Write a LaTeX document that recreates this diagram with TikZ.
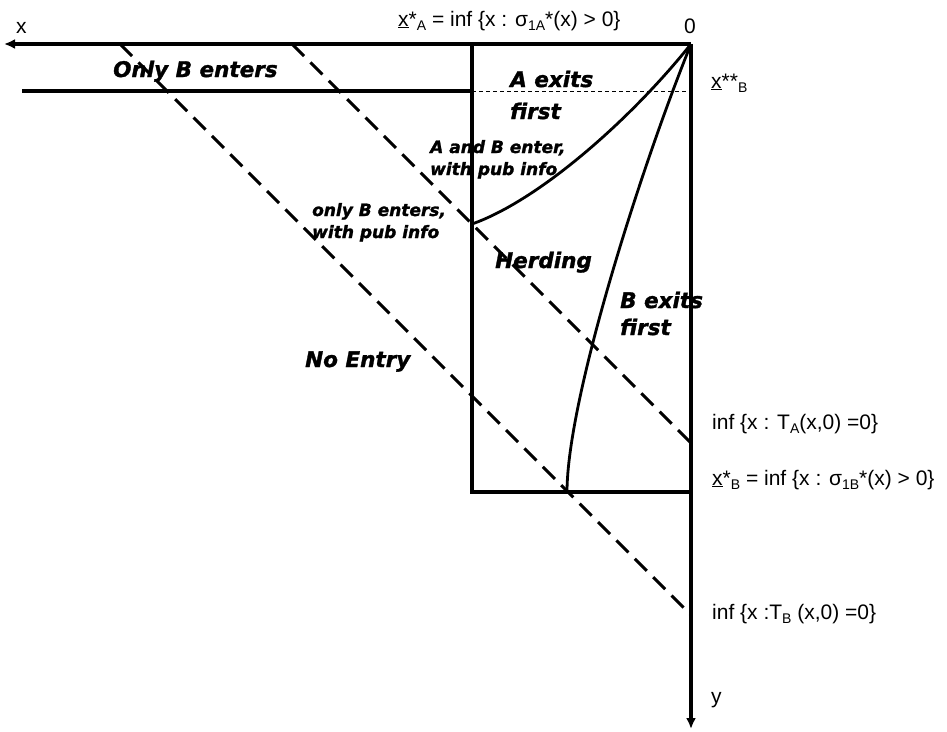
\documentclass[tikz,border=0pt]{standalone}
\usepackage{fontspec}
\setmainfont{Liberation Sans}
\newfontfamily\regionfont{DejaVu Sans Bold Oblique}[FakeBold=1.5]
\usetikzlibrary{arrows.meta}
\newcommand{\lowsub}[1]{\raisebox{-4pt}{\fontsize{14}{14}\selectfont #1}}
\tikzset{
  axis/.style={line width=3.2pt,-{Latex[length=11pt,width=10pt]}},
  bound/.style={line width=3.2pt},
  level/.style={line width=3pt,dash pattern=on 17pt off 9pt},
  hint/.style={line width=1pt,dash pattern=on 4pt off 3pt},
  frontier/.style={line width=2.8pt},
  region/.style={font=\regionfont\fontsize{21.5}{27}\selectfont,align=left,inner sep=0pt,anchor=base west},
  regionsmall/.style={font=\regionfont\fontsize{17}{22}\selectfont,align=left,inner sep=0pt,anchor=base west},
  tag/.style={font=\fontsize{21}{25}\selectfont,inner sep=0pt,anchor=base west}
}

\begin{document}
\begin{tikzpicture}[x=1pt,y=-1pt]
\useasboundingbox (0,0) rectangle (947,731);
\coordinate (O) at (691,44);
\coordinate (xend) at (4,44);
\coordinate (yend) at (691,729);
\coordinate (boxtl) at (472,44);
\coordinate (boxbl) at (472,492);
\coordinate (boxbr) at (691,492);
\coordinate (cutl) at (22,91);
\coordinate (cutm) at (472,91);
\coordinate (cutr) at (691,91);
\coordinate (tbtop) at (120,44);
\coordinate (tbend) at (691,615);
\coordinate (tatop) at (292,44);
\coordinate (taend) at (691,443);
\coordinate (herdtop) at (472,224);
\coordinate (bfoot) at (567,492);
% axes and box
\draw[axis] (O) -- (xend);
\draw[axis] (O) -- (yend);
\draw[bound] (boxtl) -- (boxbl) -- (boxbr);
\draw[bound] (cutl) -- (cutm);
\draw[hint] (cutm) -- (cutr);
% frontiers
\draw[frontier] (herdtop) .. controls (540,200) and (632,118) .. (O);
\draw[frontier] (bfoot) .. controls (567,400) and (640,170) .. (O);
% levels
\draw[level] (tbtop) -- (tbend);
\draw[level] (tatop) -- (taend);
% regions
\node[region] (onlyB) at (113,77) {Only B enters};
\node[region] (aexit) at (510,119) {A exits\\[5pt]first};
\node[regionsmall] (bothin) at (430,175) {A and B enter,\\with pub info};
\node[regionsmall] (onlyBpub) at (312,238) {only B enters,\\with pub info};
\node[region] (herd) at (495,268) {Herding};
\node[region] (bexit) at (620,335) {B exits\\first};
\node[region] (noentry) at (305,367) {No Entry};
% tags
\node[tag] (xlab) at (16,33) {x};
\node[tag] (zero) at (684,33) {0};
\node[tag] (xstarA) at (398,26) {\underline{x}*\lowsub{A} = inf \{x : σ\lowsub{1A}*(x) > 0\}};
\node[tag] (xstarstarB) at (711,88) {\underline{x}**\lowsub{B}};
\node[tag] (TA) at (712,429) {inf \{x : T\lowsub{A}(x,0) =0\}};
\node[tag] (xstarB) at (712,485) {\underline{x}*\lowsub{B} = inf \{x : σ\lowsub{1B}*(x) > 0\}};
\node[tag] (TB) at (712,619) {inf \{x :T\lowsub{B} (x,0) =0\}};
\node[tag] (ylab) at (711,703) {y};
\end{tikzpicture}
\end{document}
